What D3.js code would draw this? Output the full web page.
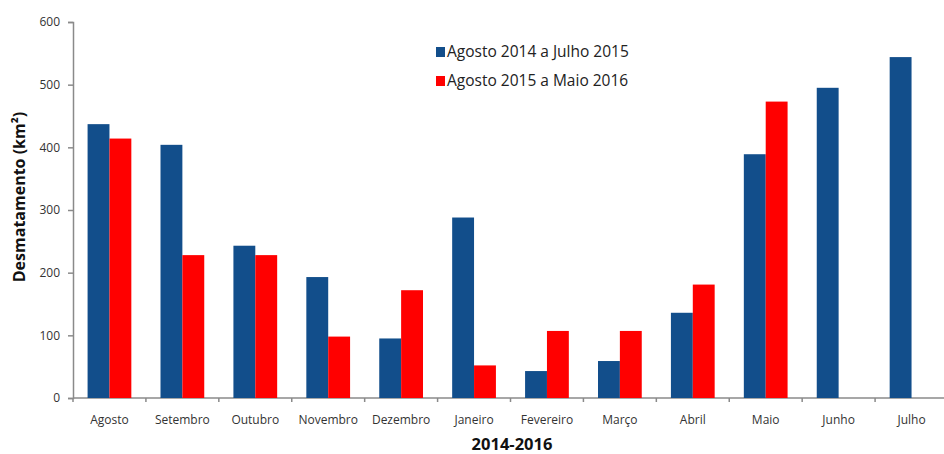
<html>

<head>
    <meta charset="utf-8">
    <title>desmatamento</title>
    <style>
        body {
            margin: 0;
            background: #fff;
        }

        .axis text {
            font: 12px "Open Sans", sans-serif;
            fill: #333;
        }

        .axis path,
        .axis line {
            fill: none;
            stroke: #8a8a8a;
            stroke-width: 1.5px;
        }

        .title {
            font-family: "Open Sans", sans-serif;
            font-weight: bold;
            fill: #111;
        }

        .legend text {
            font: 15.5px "Open Sans", sans-serif;
            fill: #222;
        }
    </style>
    <script src="https://cdnjs.cloudflare.com/ajax/libs/d3/7.8.5/d3.min.js"></script>
</head>

<body>

</body>
<script>
    var months = ["Agosto", "Setembro", "Outubro", "Novembro", "Dezembro", "Janeiro",
        "Fevereiro", "Março", "Abril", "Maio", "Junho", "Julho"];
    var series = ["Agosto 2014 a Julho 2015", "Agosto 2015 a Maio 2016"];
    var values2014 = [437, 404, 243, 193, 95, 288, 43, 59, 136, 389, 495, 544];
    var values2015 = [414, 228, 228, 98, 172, 52, 107, 107, 181, 473, null, null];
    var yTicks = [0, 100, 200, 300, 400, 500, 600];

    var colors = ["#124e8b", "#ff0000"];

    var width = 944,
        height = 454;
    var mLeft = 73,
        mTop = 22,
        mBottom = 398,
        mRight = 948;

    var svg = d3.select("body").append("svg")
        .attr("width", width)
        .attr("height", height);

    var x0 = d3.scaleBand()
        .domain(months)
        .range([mLeft, mRight])
        .paddingInner(0.4)
        .paddingOuter(0.2);

    var x1 = d3.scaleBand()
        .domain(d3.range(series.length))
        .range([0, x0.bandwidth()]);

    var y = d3.scaleLinear()
        .domain([0, 600])
        .range([mBottom, mTop]);

    // y axis
    svg.append("g")
        .attr("class", "axis")
        .attr("transform", "translate(" + mLeft + ",0)")
        .call(d3.axisLeft(y).tickValues(yTicks).tickSize(5).tickSizeOuter(5).tickPadding(8));

    // x axis: ticks on category boundaries
    var xAxis = svg.append("g").attr("class", "axis");
    xAxis.append("line")
        .attr("x1", mLeft)
        .attr("x2", width)
        .attr("y1", mBottom)
        .attr("y2", mBottom);
    xAxis.selectAll(".tick")
        .data(months)
        .enter()
        .append("line")
        .attr("x1", function(d) {
            return x0(d) - x0.step() * x0.paddingInner() / 2;
        })
        .attr("x2", function(d) {
            return x0(d) - x0.step() * x0.paddingInner() / 2;
        })
        .attr("y1", mBottom)
        .attr("y2", mBottom + 4);
    xAxis.selectAll(".lbl")
        .data(months)
        .enter()
        .append("text")
        .attr("x", function(d) {
            return x0(d) + x0.bandwidth() / 2;
        })
        .attr("y", mBottom + 26)
        .attr("text-anchor", "middle")
        .text(function(d) {
            return d;
        });

    var rows = months.map(function(m, i) {
        return {
            month: m,
            vals: [values2014[i], values2015[i]]
        };
    });

    var groups = svg.selectAll(".group")
        .data(rows)
        .enter()
        .append("g")
        .attr("transform", function(d) {
            return "translate(" + x0(d.month) + ",0)";
        });

    groups.selectAll("rect")
        .data(function(d) {
            return d.vals.map(function(v, k) {
                return {
                    k: k,
                    v: v
                };
            }).filter(function(e) {
                return e.v != null;
            });
        })
        .enter()
        .append("rect")
        .attr("x", function(d) {
            return x1(d.k);
        })
        .attr("width", x1.bandwidth())
        .attr("y", function(d) {
            return y(d.v);
        })
        .attr("height", function(d) {
            return mBottom - y(d.v);
        })
        .attr("fill", function(d) {
            return colors[d.k];
        });

    // titles
    svg.append("text")
        .attr("class", "title")
        .attr("x", 512)
        .attr("y", 450)
        .attr("text-anchor", "middle")
        .style("font-size", "16.5px")
        .text("2014-2016");

    svg.append("text")
        .attr("class", "title")
        .attr("transform", "translate(25,197) rotate(-90)")
        .attr("text-anchor", "middle")
        .style("font-size", "16px")
        .text("Desmatamento (km²)");

    // legend
    var legend = svg.append("g")
        .attr("class", "legend")
        .attr("transform", "translate(436,47)");
    var item = legend.selectAll("g")
        .data(series)
        .enter()
        .append("g")
        .attr("transform", function(d, i) {
            return "translate(0," + i * 29 + ")";
        });
    item.append("rect")
        .attr("width", 9)
        .attr("height", 10)
        .attr("fill", function(d, i) {
            return colors[i];
        });
    item.append("text")
        .attr("x", 11)
        .attr("y", 10)
        .text(function(d) {
            return d;
        });
</script>

</html>
